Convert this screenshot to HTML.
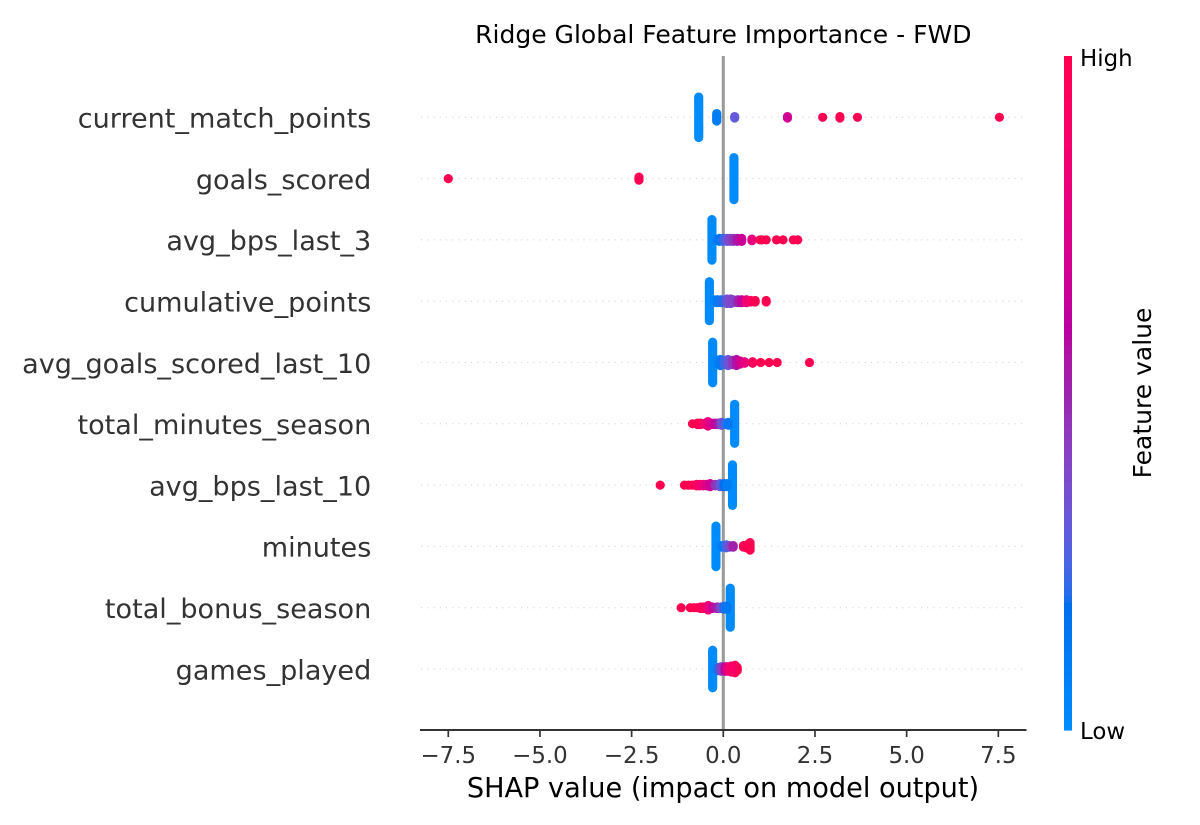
<!DOCTYPE html>
<html lang="en">
<head>
<meta charset="utf-8">
<title>Ridge Global Feature Importance - FWD</title>
<style>
html,body{margin:0;padding:0;background:#fff;width:1200px;height:825px;overflow:hidden}
svg{display:block}
text{font-family:"DejaVu Sans","Liberation Sans",sans-serif}
</style>
</head>
<body>
<svg id="chart" xmlns="http://www.w3.org/2000/svg" width="1200" height="825" viewBox="0 0 1200 825">
  <rect x="0" y="0" width="1200" height="825" fill="#ffffff"/>
  <text x="723.3" y="43" font-size="25.03" text-anchor="middle" fill="#000">Ridge Global Feature Importance - FWD</text>
  <g id="row-lines"></g>
  <line x1="723.3" x2="723.3" y1="56" y2="730" stroke="#999999" stroke-width="3"/>
  <g id="points"></g>
  <g id="y-labels"></g>
  <line x1="420" x2="1026.5" y1="730" y2="730" stroke="#333333" stroke-width="2"/>
  <g id="x-ticks"></g>
  <text x="723" y="797" font-size="27.15" text-anchor="middle" fill="#000">SHAP value (impact on model output)</text>
  <g id="colorbar"></g>
  <text x="1080" y="66" font-size="22.9" fill="#000">High</text>
  <text x="1080" y="739" font-size="22.9" fill="#000">Low</text>
  <text x="0" y="0" font-size="25" text-anchor="middle" fill="#000" transform="translate(1151 393) rotate(-90)">Feature value</text>
</svg>
<script>
const featureNames = ["current_match_points","goals_scored","avg_bps_last_3","cumulative_points","avg_goals_scored_last_10","total_minutes_season","avg_bps_last_10","minutes","total_bonus_season","games_played"];
const xTickValues = [-7.5,-5,-2.5,0,2.5,5,7.5];
const xTickLabels = ["\u22127.5","\u22125.0","\u22122.5","0.0","2.5","5.0","7.5"];

// SHAP value, normalised feature value and number of stacked samples for each feature
const shapCurrentMatchPoints = [-0.67,-0.18,0.31,1.75,2.71,3.18,3.66,7.53];
const featureCurrentMatchPoints = [0,0.1,0.3,0.68,1,1,1,1];
const countCurrentMatchPoints = [28,6,2,2,1,2,1,1];

const shapGoalsScored = [0.29,-7.5,-2.3];
const featureGoalsScored = [0,1,1];
const countGoalsScored = [29,1,3];

const shapAvgBpsLast3 = [-0.31,-0.2,-0.1,0,0.1,0.18,0.27,0.38,0.5,0.78,1.0,1.05,1.17,1.45,1.63,1.91,2.03];
const featureAvgBpsLast3 = [0,0.08,0.15,0.22,0.32,0.38,0.45,0.55,0.66,0.8,1,1,1,1,1,1,1];
const countAvgBpsLast3 = [28,2,3,3,3,3,3,3,3,2,1,1,1,1,1,1,1];

const shapCumulativePoints = [-0.38,-0.25,-0.16,-0.05,0.1,0.2,0.27,0.4,0.5,0.63,0.75,0.87,1.17];
const featureCumulativePoints = [0,0.05,0.1,0.2,0.33,0.38,0.4,0.5,0.62,0.82,0.92,1,1];
const countCumulativePoints = [27,3,3,3,4,4,3,3,3,3,2,2,2];

const shapAvgGoals = [-0.29,-0.15,-0.08,0.02,0.13,0.25,0.36,0.46,0.58,0.8,1.02,1.25,1.47,2.35];
const featureAvgGoals = [0,0.06,0.12,0.22,0.32,0.44,0.56,0.68,0.8,0.95,1,1,1,1];
const countAvgGoals = [28,4,5,4,5,4,5,3,2,2,1,1,1,1];

const shapTotalMinutes = [0.31,-0.84,-0.7,-0.62,-0.55,-0.48,-0.42,-0.32,-0.22,-0.13,-0.05,0.05,0.14];
const featureTotalMinutes = [0,1,1,0.97,0.93,0.87,0.8,0.7,0.62,0.5,0.36,0.22,0.12];
const countTotalMinutes = [27,1,2,2,1,2,4,2,2,2,3,2,3];

const shapAvgBps10 = [0.25,-1.72,-1.06,-0.95,-0.85,-0.73,-0.65,-0.55,-0.45,-0.36,-0.22,-0.09,0.02,0.1];
const featureAvgBps10 = [0,1,1,1,1,0.95,0.88,0.82,0.74,0.66,0.45,0.3,0.18,0.1];
const countAvgBps10 = [28,1,1,1,1,2,2,2,2,3,2,3,3,3];

const shapMinutes = [-0.2,-0.08,0,0.08,0.18,0.27,0.55,0.64,0.73];
const featureMinutes = [0,0.05,0.12,0.25,0.38,0.52,0.95,1,1];
const countMinutes = [28,2,2,3,2,2,2,3,6];

const shapTotalBonus = [0.19,-1.15,-0.9,-0.8,-0.72,-0.62,-0.55,-0.41,-0.3,-0.17,-0.08,0.02,0.1];
const featureTotalBonus = [0,1,1,1,1,0.97,0.95,0.82,0.65,0.5,0.38,0.2,0.12];
const countTotalBonus = [27,1,1,1,1,2,2,4,2,2,2,3,3];

const shapGamesPlayed = [-0.29,-0.15,-0.06,0.05,0.1,0.16,0.22,0.32,0.38,0.25];
const featureGamesPlayed = [0,0.2,0.42,0.6,0.7,0.85,0.9,1,1,0.9];
const countGamesPlayed = [26,3,4,4,4,4,5,6,3,4];

const rowShap = [shapCurrentMatchPoints,shapGoalsScored,shapAvgBpsLast3,shapCumulativePoints,shapAvgGoals,shapTotalMinutes,shapAvgBps10,shapMinutes,shapTotalBonus,shapGamesPlayed];
const rowFeature = [featureCurrentMatchPoints,featureGoalsScored,featureAvgBpsLast3,featureCumulativePoints,featureAvgGoals,featureTotalMinutes,featureAvgBps10,featureMinutes,featureTotalBonus,featureGamesPlayed];
const rowCount = [countCurrentMatchPoints,countGoalsScored,countAvgBpsLast3,countCumulativePoints,countAvgGoals,countTotalMinutes,countAvgBps10,countMinutes,countTotalBonus,countGamesPlayed];

const NS = "http://www.w3.org/2000/svg";
function xScale(v){ return 723.3 + 36.67 * v; }
function yScale(i){ return 117.3 + 61.3 * i; }
function make(tag, attrs, parent){
  const el = document.createElementNS(NS, tag);
  for (const k in attrs) el.setAttribute(k, attrs[k]);
  parent.appendChild(el);
  return el;
}
// SHAP's red_blue map: LCH interpolation from blue to red through a darker middle
function colormap(t){
  const p = Math.max(0, Math.min(1, t));
  const L = p < 0.5 ? 54 + (40 - 54) * p * 2 : 40 + (54 - 40) * (p - 0.5) * 2;
  const C = 70 + 20 * p;
  const H = 4.6588 + (0.35470565 + 2 * Math.PI - 4.6588) * p;
  const a = C * Math.cos(H), b = C * Math.sin(H);
  const fy = (L + 16) / 116, fx = fy + a / 500, fz = fy - b / 200;
  const inv = f => f > 0.2068966 ? f * f * f : (f - 16 / 116) / 7.787;
  const X = 0.95047 * inv(fx), Y = inv(fy), Z = 1.08883 * inv(fz);
  const lin = [3.2406 * X - 1.5372 * Y - 0.4986 * Z, -0.9689 * X + 1.8758 * Y + 0.0415 * Z, 0.0557 * X - 0.2040 * Y + 1.0570 * Z];
  const out = lin.map(c => {
    const v = c <= 0 ? 0 : (c <= 0.0031308 ? 12.92 * c : 1.055 * Math.pow(c, 1 / 2.4) - 0.055);
    return Math.round(Math.max(0, Math.min(1, v)) * 255);
  });
  return "rgb(" + out.join(",") + ")";
}

const lineLayer = document.getElementById("row-lines");
const pointLayer = document.getElementById("points");
const labelLayer = document.getElementById("y-labels");
const tickLayer = document.getElementById("x-ticks");
const barLayer = document.getElementById("colorbar");
const STACK_STEP = 1.5;
const DOT_R = 4.6;

featureNames.forEach(function(name, i){
  const y = yScale(i);
  const guide = make("line", {x1:421, x2:1026, y1:y, y2:y, stroke:"#cccccc", "stroke-width":1, "stroke-dasharray":"1 5.25"}, lineLayer);
  
  
  const label = make("text", {x:371.3, y:y + 10.3, "font-size":27.08, "text-anchor":"end", fill:"#333333"}, labelLayer);
  
  
  label.textContent = name;
  rowShap[i].forEach(function(v, j){
    const n = rowCount[i][j];
    const color = colormap(rowFeature[i][j]);
    for (let k = 0; k < n; k++) {
      const dot = make("circle", {cx:xScale(v), cy:y + (k - (n - 1) / 2) * STACK_STEP, r:DOT_R, fill:color}, pointLayer);
      
      
    }
  });
});

xTickValues.forEach(function(v, i){
  const x = xScale(v);
  const tick = make("line", {x1:x, x2:x, y1:730, y2:737, stroke:"#333333", "stroke-width":1.7}, tickLayer);
  
  
  const label = make("text", {x:x, y:763, "font-size":22.9, "text-anchor":"middle", fill:"#333333"}, tickLayer);
  
  
  label.textContent = xTickLabels[i];
});

const BAR_TOP = 56, BAR_BOTTOM = 730, BAR_STEPS = 100;
for (let s = 0; s < BAR_STEPS; s++) {
  const segH = (BAR_BOTTOM - BAR_TOP) / BAR_STEPS;
  const seg = make("rect", {x:1064, y:BAR_BOTTOM - (s + 1) * segH, width:8, height:segH + 0.6, fill:colormap(s / (BAR_STEPS - 1))}, barLayer);
  
  
}
</script>
</body>
</html>
